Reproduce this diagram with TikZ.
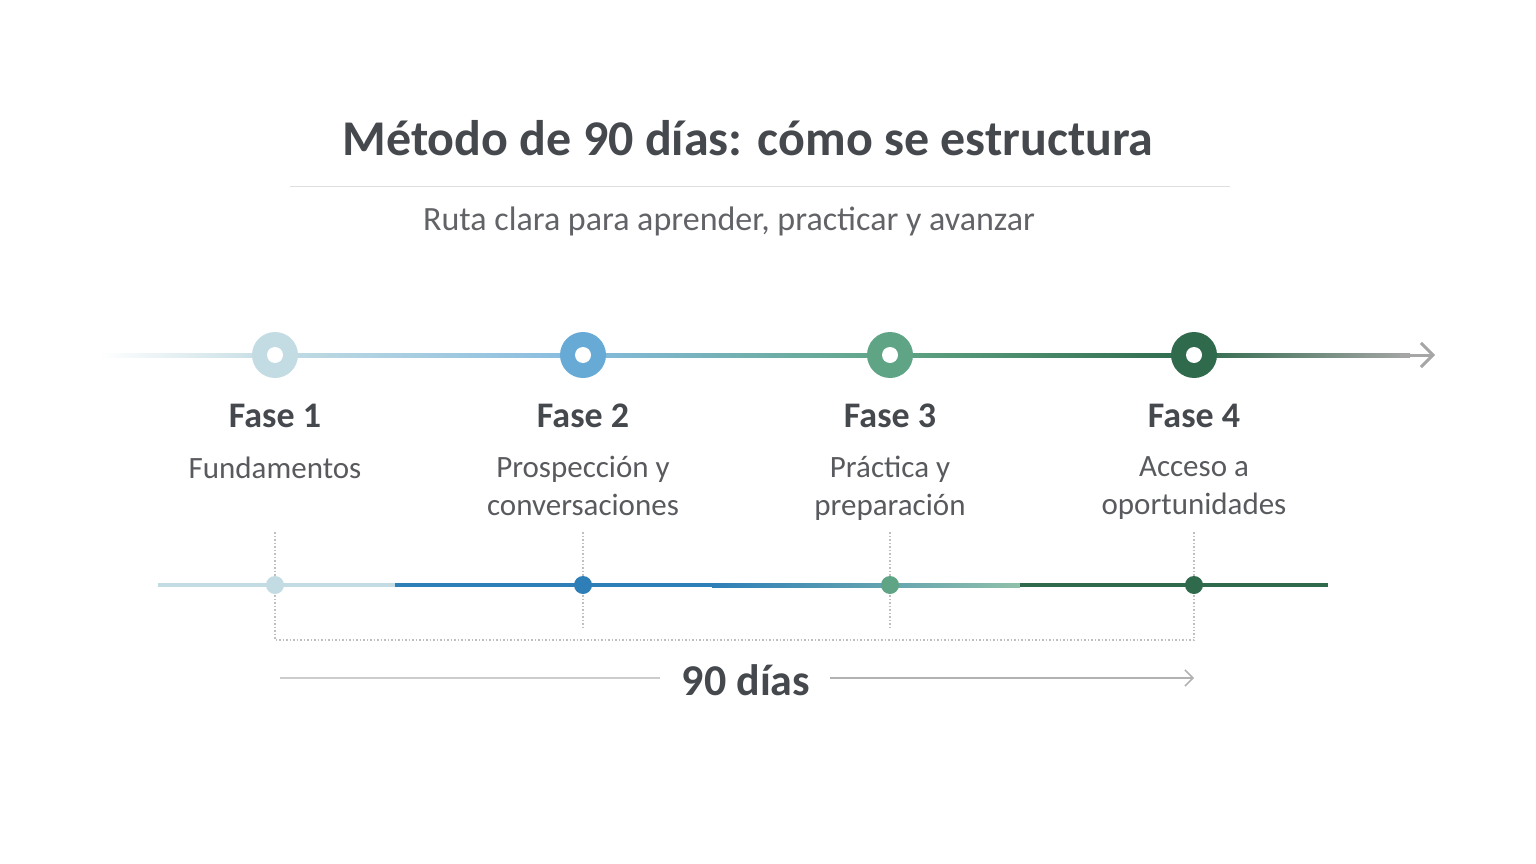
\documentclass[tikz,border=0pt]{standalone}
\usepackage{fontspec}
\setmainfont{Carlito}
\usetikzlibrary{positioning,arrows.meta}
\definecolor{inkgray}{HTML}{45484C}
\definecolor{phaseA}{HTML}{C3DCE3}
\definecolor{phaseB}{HTML}{67AAD6}
\definecolor{phaseC}{HTML}{5FA585}
\definecolor{phaseD}{HTML}{2F6A4C}
\definecolor{barB}{HTML}{2E7FB8}
\tikzset{
  phase/.style={font=\bfseries\fontsize{36}{40}\selectfont, text=inkgray},
  desc/.style={font=\fontsize{31}{38}\selectfont, text=inkgray!90, align=center, anchor=north},
  ring/.style={circle, minimum size=46pt, inner sep=0pt},
  dot/.style={circle, minimum size=18pt, inner sep=0pt},
  guide/.style={gray!50, line width=1.5pt, dotted}
}
\begin{document}
\begin{tikzpicture}[x=1pt,y=-1pt]
\useasboundingbox (0,0) rectangle (1536,864);
\node[font=\bfseries\fontsize{50}{54}\selectfont, text=inkgray] (title) at (748,138) {Método de 90 días: cómo se estructura};
\draw[gray!25, line width=1pt] (290,186) -- (1230,186);
\node[font=\fontsize{34}{38}\selectfont, text=inkgray!85] (sub) at (729,221) {Ruta clara para aprender, practicar y avanzar};
% upper timeline
\coordinate (te) at (1435,355);
\shade[left color=white, right color=phaseA] (100,353) rectangle (275,357);
\shade[left color=phaseA, right color=phaseB!80] (275,353) rectangle (583,357);
\shade[left color=phaseB!80, right color=phaseC] (583,353) rectangle (890,357);
\shade[left color=phaseC, right color=phaseD] (890,353) rectangle (1194,357);
\shade[left color=phaseD, right color=gray!70] (1194,353) rectangle (1410,357);
\draw[gray!70, line width=3pt, -{Straight Barb[length=12pt,width=24pt]}] (1400,355) -- (te);
\foreach \x/\c/\n in {275/phaseA/1, 583/phaseB/2, 890/phaseC/3, 1194/phaseD/4} {
  \node[ring, fill=\c] (r\n) at (\x,355) {};
  \fill[white] (r\n) circle (8pt);
  \node[phase] (f\n) at (\x,416) {Fase \n};
}
\node[desc] (d1) at (275,453) {Fundamentos};
\node[desc] (d2) at (583,453) {Prospección y\\conversaciones};
\node[desc] (d3) at (890,453) {Práctica y\\preparación};
\node[desc] (d4) at (1194,453) {Acceso a\\oportunidades};
% lower bar
\draw[phaseA, line width=4pt] (158,585) -- (395,585);
\draw[barB, line width=4pt] (395,585) -- (712,585);
\shade[left color=barB, right color=phaseC!70] (712,583) rectangle (1020,587);
\draw[phaseD, line width=4pt] (1020,585) -- (1328,585);
\foreach \x/\c/\n in {275/phaseA/1, 583/barB/2, 890/phaseC/3, 1194/phaseD/4} {
  \draw[guide] (\x,532) -- (\x,630);
  \node[dot, fill=\c] (p\n) at (\x,585) {};
}
\draw[guide] (275,630) -- (275,640) -- (1194,640) -- (1194,630);
\node[font=\bfseries\fontsize{44}{48}\selectfont, text=inkgray, inner sep=0pt] (days) at (746,680) {90 días};
\coordinate (dl) at (660,678);
\coordinate (dr) at (830,678);
\draw[gray!40, line width=1.5pt] (280,678) -- (dl);
\draw[gray!60, line width=1.5pt, -{Straight Barb[length=8pt,width=16pt]}] (dr) -- (1194,678);
\end{tikzpicture}
\end{document}
